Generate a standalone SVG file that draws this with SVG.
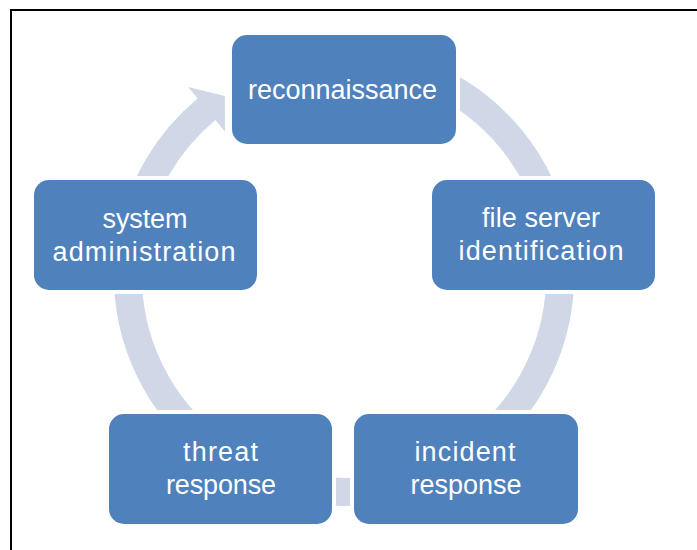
<svg xmlns="http://www.w3.org/2000/svg" width="697" height="550" viewBox="0 0 697 550">
<style>
.node{fill:#4F81BD;stroke:#FFFFFF;stroke-width:8;paint-order:stroke}
.lbl{fill:#FFFFFF;font-family:"Liberation Sans",Arial,sans-serif;font-size:27px;text-anchor:middle}
.arc{fill:none;stroke:#D0D7E7;stroke-width:28}
.head{fill:#D0D7E7;stroke:none}
</style>
<rect x="0" y="0" width="697" height="550" fill="#FFFFFF"/>
<path d="M11,551 V10 H698" fill="none" stroke="#000000" stroke-width="2"/>
<g id="connectors">
<path class="arc" d="M417.9,73 A216,216 0 0 1 552.6,220.1"/>
<path class="arc" d="M559.2,257.2 A216,216 0 0 1 482.8,441.5"/>
<path class="arc" d="M399.9,484.6 A216,216 0 0 1 288.1,484.6"/>
<path class="arc" d="M205.2,441.5 A216,216 0 0 1 128.8,257.2"/>
<path class="head" d="M117.5,236.1 A230,230 0 0 1 197.7,98.5 L188.2,87 L224.8,95.9 L225.1,131.7 L215.5,120.1 A202,202 0 0 0 145.1,240.9 Z"/>
</g>
<g id="reconnaissance">
<rect class="node" x="232" y="35" width="224" height="109" rx="15"/>
<text class="lbl" x="342.5" y="98.5" textLength="189" lengthAdjust="spacing">reconnaissance</text>
</g>
<g id="file-server-identification">
<rect class="node" x="432" y="180" width="223" height="110" rx="15"/>
<text class="lbl" x="541" y="227" textLength="118" lengthAdjust="spacing">file server</text>
<text class="lbl" x="541" y="259.5" textLength="165" lengthAdjust="spacing">identification</text>
</g>
<g id="incident-response">
<rect class="node" x="354" y="414" width="224" height="110" rx="15"/>
<text class="lbl" x="465" y="461" textLength="101" lengthAdjust="spacing">incident</text>
<text class="lbl" x="466" y="493.5" textLength="111" lengthAdjust="spacing">response</text>
</g>
<g id="threat-response">
<rect class="node" x="109" y="414" width="223" height="110" rx="15"/>
<text class="lbl" x="220.5" y="461" textLength="75" lengthAdjust="spacing">threat</text>
<text class="lbl" x="221" y="493.5" textLength="110" lengthAdjust="spacing">response</text>
</g>
<g id="system-administration">
<rect class="node" x="34" y="180" width="223" height="110" rx="15"/>
<text class="lbl" x="145" y="228" textLength="85" lengthAdjust="spacing">system</text>
<text class="lbl" x="144" y="260.5" textLength="183" lengthAdjust="spacing">administration</text>
</g>
</svg>
